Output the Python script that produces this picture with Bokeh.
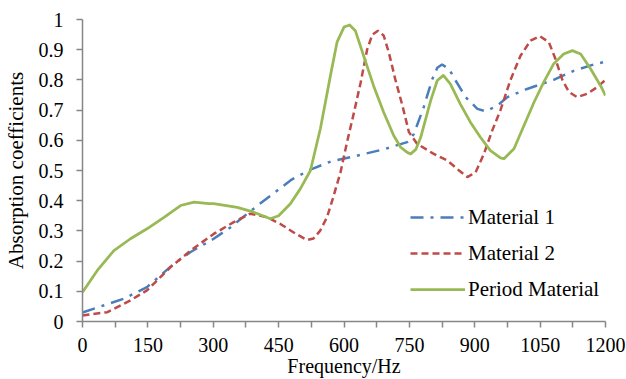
from bokeh.plotting import figure
from bokeh.models import Range1d, FixedTicker, NumeralTickFormatter, Legend, LegendItem
from bokeh.embed import file_html
from bokeh.resources import INLINE

# ---- data ----
m1_freq = [0, 48, 94, 148, 209, 248, 301, 340, 378, 416, 447, 480, 523, 570, 615, 691, 745, 760, 783, 802, 814, 825, 841, 856, 879, 906, 925, 952, 975, 1020, 1081, 1127, 1177, 1200]
m1_abs = [0.03, 0.053, 0.075, 0.114, 0.19, 0.23, 0.274, 0.312, 0.357, 0.40, 0.434, 0.47, 0.503, 0.53, 0.544, 0.57, 0.594, 0.62, 0.71, 0.80, 0.84, 0.851, 0.836, 0.798, 0.743, 0.704, 0.696, 0.715, 0.743, 0.77, 0.80, 0.83, 0.853, 0.86]

m2_freq = [0, 57, 110, 148, 202, 248, 301, 347, 385, 424, 454, 490, 515, 530, 545, 561, 575, 592, 607, 623, 638, 653, 665, 678, 691, 703, 718, 734, 749, 768, 806, 837, 864, 883, 902, 921, 940, 959, 982, 1005, 1028, 1049, 1070, 1085, 1101, 1116, 1135, 1158, 1181, 1200]
m2_abs = [0.02, 0.031, 0.07, 0.103, 0.18, 0.235, 0.29, 0.329, 0.357, 0.345, 0.323, 0.29, 0.27, 0.275, 0.30, 0.345, 0.41, 0.494, 0.594, 0.693, 0.79, 0.90, 0.95, 0.963, 0.947, 0.89, 0.80, 0.715, 0.627, 0.588, 0.555, 0.533, 0.50, 0.478, 0.494, 0.555, 0.632, 0.70, 0.80, 0.88, 0.93, 0.945, 0.925, 0.87, 0.80, 0.76, 0.743, 0.754, 0.776, 0.80]

pm_freq = [0, 34, 72, 110, 148, 187, 225, 256, 290, 301, 355, 393, 431, 450, 477, 500, 523, 546, 569, 584, 600, 613, 626, 645, 668, 691, 714, 730, 745, 753, 765, 776, 799, 814, 828, 844, 867, 890, 913, 936, 959, 967, 990, 1013, 1036, 1058, 1081, 1104, 1124, 1143, 1166, 1189, 1200]
pm_abs = [0.097, 0.169, 0.235, 0.274, 0.307, 0.345, 0.384, 0.395, 0.39, 0.39, 0.378, 0.362, 0.34, 0.35, 0.39, 0.44, 0.50, 0.64, 0.815, 0.925, 0.975, 0.982, 0.963, 0.88, 0.78, 0.693, 0.616, 0.577, 0.56, 0.555, 0.57, 0.61, 0.732, 0.798, 0.815, 0.787, 0.72, 0.66, 0.61, 0.566, 0.542, 0.539, 0.572, 0.649, 0.726, 0.792, 0.853, 0.886, 0.897, 0.886, 0.836, 0.78, 0.748]

x_ticks = [0, 150, 300, 450, 600, 750, 900, 1050, 1200]
x_minor = [75, 225, 375, 525, 675, 825, 975, 1125]
y_ticks = [0, 0.1, 0.2, 0.3, 0.4, 0.5, 0.6, 0.7, 0.8, 0.9, 1.0]
labels = ["Material 1", "Material 2", "Period Material"]

FONT = "Liberation Serif"
AXIS_C = "#868686"

p = figure(width=626, height=379, output_backend="svg", toolbar_location=None,
           x_range=Range1d(0, 1200), y_range=Range1d(0, 1),
           min_border_left=82, min_border_right=21, min_border_top=19, min_border_bottom=58)
p.outline_line_color = None
p.xgrid.grid_line_color = None
p.ygrid.grid_line_color = None
p.background_fill_color = "white"
p.border_fill_color = "white"

r1 = p.line(m1_freq, m1_abs, line_color="#4A7EBB", line_width=2.5, line_dash="13 7 3 7")
r2 = p.line(m2_freq, m2_abs, line_color="#BE4B48", line_width=2.5, line_dash="7 4")
r3 = p.line(pm_freq, pm_abs, line_color="#98B954", line_width=2.75, line_join="round")

xa = p.xaxis[0]
xa.ticker = FixedTicker(ticks=x_ticks, minor_ticks=x_minor)
ya = p.yaxis[0]
ya.ticker = FixedTicker(ticks=y_ticks)
ya.formatter = NumeralTickFormatter(format="0.[0]")

for ax in (xa, ya):
    ax.axis_line_color = AXIS_C
    ax.axis_line_width = 1.5
    ax.major_tick_line_color = AXIS_C
    ax.major_tick_line_width = 1.5
    ax.minor_tick_line_color = AXIS_C
    ax.minor_tick_line_width = 1.5
    ax.major_tick_out = 6
    ax.major_tick_in = 0
    ax.minor_tick_out = 6
    ax.minor_tick_in = 0
    ax.major_label_text_font = FONT
    ax.major_label_text_font_size = "20px"
    ax.major_label_text_color = "black"
    ax.axis_label_text_font = FONT
    ax.axis_label_text_font_style = "normal"
    ax.axis_label_text_color = "black"

ya.minor_tick_line_color = None
xa.axis_label = "Frequency/Hz"
ya.axis_label = "Absorption coefficients"
xa.axis_label_text_font_size = "20px"
ya.axis_label_text_font_size = "21px"
xa.major_label_standoff = 10
xa.axis_label_standoff = 0
ya.major_label_standoff = 13
ya.axis_label_standoff = 8

legend = Legend(items=[LegendItem(label=labels[0], renderers=[r1]),
                       LegendItem(label=labels[1], renderers=[r2]),
                       LegendItem(label=labels[2], renderers=[r3])],
                location=(328, 14))
legend.glyph_width = 55
legend.glyph_height = 36
legend.label_height = 36
legend.spacing = 0
legend.padding = 0
legend.margin = 0
legend.label_standoff = 3
legend.border_line_color = None
legend.background_fill_alpha = 0
legend.label_text_font = FONT
legend.label_text_font_size = "21px"
legend.label_text_color = "black"
p.add_layout(legend, "center")

open("out.html", "w").write(file_html(p, INLINE))
